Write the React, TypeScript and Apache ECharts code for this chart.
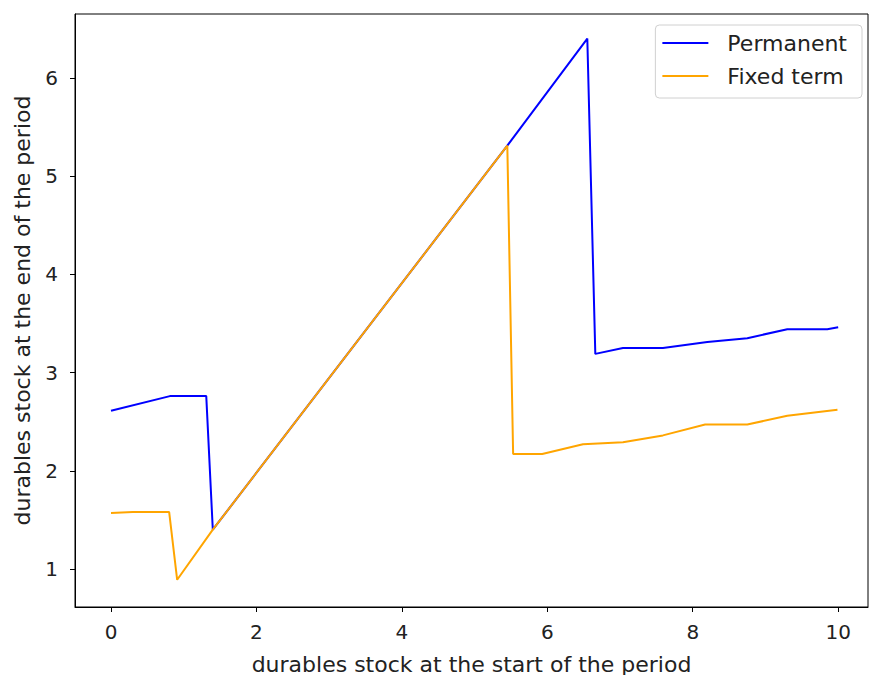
import React, { useEffect, useRef } from "react";
import * as echarts from "echarts";

const permanentX = [0, 0.81, 1.31, 1.40, 5.45, 6.55, 6.66, 7.04, 7.59, 8.2, 8.75, 9.30, 9.85, 10];
const permanentY = [2.61, 2.76, 2.76, 1.40, 5.31, 6.40, 3.19, 3.25, 3.25, 3.31, 3.35, 3.44, 3.44, 3.46];
const fixedX = [0, 0.3, 0.80, 0.91, 1.40, 5.45, 5.53, 5.93, 6.49, 7.04, 7.59, 8.17, 8.75, 9.30, 9.99];
const fixedY = [1.57, 1.58, 1.58, 0.89, 1.40, 5.31, 2.17, 2.17, 2.27, 2.29, 2.36, 2.47, 2.47, 2.56, 2.62];
const xTicks = [0, 2, 4, 6, 8, 10];
const yTicks = [1, 2, 3, 4, 5, 6];

const FONT = "'DejaVu Sans', sans-serif";
const FS = 22;
const TFS = 20;

export default function App() {
  const ref = useRef<HTMLDivElement>(null);
  useEffect(() => {
    if (!ref.current) return;
    const chart = echarts.init(ref.current, null, { renderer: "svg" });
    const pair = (xs: number[], ys: number[]) => xs.map((x, i) => [x, ys[i]]);
    chart.setOption({
      animation: false,
      backgroundColor: "#fff",
      textStyle: { fontFamily: FONT },
      grid: {
        left: 75,
        top: 14,
        right: 2,
        bottom: 68,
        containLabel: false,
        outerBoundsMode: "none",
        show: true,
        borderColor: "#000",
        borderWidth: 1,
        backgroundColor: "transparent",
      },
      legend: {
        orient: "vertical",
        right: 8,
        top: 25,
        padding: [6, 15, 10, 7],
        itemWidth: 46,
        itemHeight: 2,
        itemGap: 9,
        icon: "rect",
        borderColor: "#d0d0d0",
        borderWidth: 1,
        borderRadius: 4,
        textStyle: { fontFamily: FONT, fontSize: FS, lineHeight: 24, color: "#222", padding: [0, 0, 0, 14] },
        data: ["Permanent", "Fixed term"],
      },
      xAxis: {
        type: "value",
        min: -0.495,
        max: 10.41,
        name: "durables stock at the start of the period",
        nameLocation: "middle",
        nameGap: 46,
        nameTextStyle: { fontFamily: FONT, fontSize: FS, color: "#222" },
        splitLine: { show: false },
        axisLine: { show: true, onZero: false, lineStyle: { color: "#000" } },
        axisTick: { show: true, length: 5, customValues: xTicks, lineStyle: { color: "#000" } },
        axisLabel: { customValues: xTicks, fontFamily: FONT, fontSize: TFS, color: "#222", margin: 15 },
      },
      yAxis: {
        type: "value",
        min: 0.613,
        max: 6.65,
        name: "durables stock at the end of the period",
        nameLocation: "middle",
        nameGap: 42,
        nameTextStyle: { fontFamily: FONT, fontSize: FS, color: "#222" },
        splitLine: { show: false },
        axisLine: { show: true, onZero: false, lineStyle: { color: "#000" } },
        axisTick: { show: true, length: 5, customValues: yTicks, lineStyle: { color: "#000" } },
        axisLabel: { customValues: yTicks, fontFamily: FONT, fontSize: TFS, color: "#222", margin: 17 },
      },
      series: [
        {
          name: "Permanent",
          type: "line",
          data: pair(permanentX, permanentY),
          showSymbol: false,
          symbol: "none",
          lineStyle: { color: "#0000ff", width: 2 },
          itemStyle: { color: "#0000ff" },
          z: 2,
        },
        {
          name: "Fixed term",
          type: "line",
          data: pair(fixedX, fixedY),
          showSymbol: false,
          symbol: "none",
          lineStyle: { color: "#ffa500", width: 2 },
          itemStyle: { color: "#ffa500" },
          z: 3,
        },
      ],
    });
    return () => chart.dispose();
  }, []);
  return <div ref={ref} style={{ width: 870, height: 675, position: "absolute", left: 0, top: 0 }} />;
}
